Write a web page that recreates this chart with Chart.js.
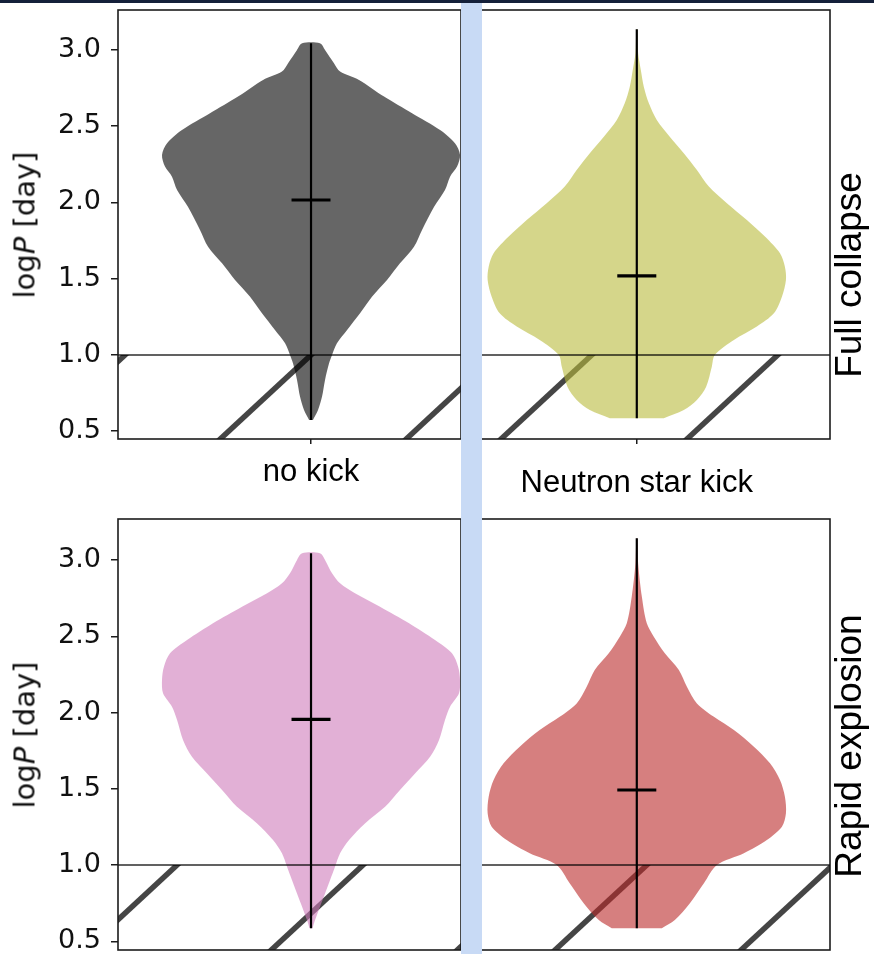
<!DOCTYPE html>
<html><head><meta charset="utf-8">
<script src="https://cdn.jsdelivr.net/npm/chart.js@4.4.1/dist/chart.umd.min.js"></script>
<style>
html,body{margin:0;padding:0;background:#fff;}
body{width:874px;height:954px;position:relative;overflow:hidden;}
canvas{position:absolute;}
.band{position:absolute;left:461px;top:3px;width:21px;height:951px;background:#c8daf5;}
.topbar{position:absolute;left:0;top:0;width:874px;height:3px;background:#14203a;}
.rot{position:absolute;white-space:nowrap;line-height:1;transform:translate(-50%,-50%) rotate(-90deg);}
.ylab{font-family:"DejaVu Sans";font-size:29px;color:#111;}
.rowlab{font-family:"Liberation Sans",Arial,sans-serif;font-size:37px;color:#000;}
</style></head><body>
<canvas id="c0" width="461" height="505" style="left:0;top:0"></canvas>
<canvas id="c1" width="408" height="505" style="left:466px;top:0"></canvas>
<canvas id="c2" width="461" height="449" style="left:0;top:505px"></canvas>
<canvas id="c3" width="408" height="449" style="left:466px;top:505px"></canvas>
<div class="band"></div>
<div class="topbar"></div>
<div class="rot ylab" style="left:25px;top:225px">log<i>P</i> [day]</div>
<div class="rot ylab" style="left:25px;top:735px">log<i>P</i> [day]</div>
<div class="rot rowlab" id="r0" style="left:848px;top:275px"></div>
<div class="rot rowlab" id="r1" style="left:848px;top:746px"></div>
<script>
// ---------------- data ----------------
const categories = ['no kick', 'Neutron star kick'];
const scenarios = ['Full collapse', 'Rapid explosion'];
const yTickValues = [0.5, 1.0, 1.5, 2.0, 2.5, 3.0];
const thresholdLogP = 1.0;

// Full collapse, no kick
const fullNoKickLogP = [0.574, 0.639, 0.727, 0.836, 0.945, 1.000, 1.077, 1.164, 1.273, 1.382, 1.492, 1.601, 1.710, 1.820, 1.972, 2.082, 2.169, 2.235, 2.311, 2.388, 2.475, 2.585, 2.694, 2.803, 2.858, 2.913, 3.000, 3.044];
const fullNoKickDensity = [0.013, 0.047, 0.074, 0.094, 0.121, 0.141, 0.174, 0.242, 0.329, 0.409, 0.510, 0.597, 0.691, 0.745, 0.826, 0.899, 0.933, 0.980, 1.000, 0.966, 0.866, 0.678, 0.490, 0.322, 0.195, 0.154, 0.094, 0.060];
const fullNoKickMedian = 2.016;

// Full collapse, neutron star kick
const fullNsKickLogP = [0.585, 0.639, 0.705, 0.792, 0.923, 1.000, 1.098, 1.186, 1.273, 1.382, 1.492, 1.579, 1.667, 1.776, 1.885, 1.995, 2.104, 2.213, 2.323, 2.431, 2.541, 2.650, 2.759, 2.869, 2.978, 3.136];
const fullNsKickDensity = [0.181, 0.315, 0.403, 0.465, 0.503, 0.523, 0.651, 0.805, 0.919, 0.973, 1.000, 0.993, 0.960, 0.859, 0.738, 0.604, 0.483, 0.403, 0.315, 0.221, 0.134, 0.081, 0.047, 0.027, 0.009, 0.003];
const fullNsKickMedian = 1.518;

// Rapid explosion, no kick
const rapidNoKickLogP = [0.585, 0.639, 0.727, 0.814, 0.902, 0.989, 1.077, 1.164, 1.273, 1.382, 1.492, 1.601, 1.710, 1.820, 1.951, 2.038, 2.126, 2.213, 2.300, 2.388, 2.475, 2.585, 2.694, 2.782, 2.847, 2.913, 3.000, 3.044];
const rapidNoKickDensity = [0.010, 0.027, 0.060, 0.094, 0.128, 0.161, 0.195, 0.255, 0.362, 0.497, 0.597, 0.698, 0.799, 0.859, 0.899, 0.933, 0.993, 1.000, 0.987, 0.946, 0.832, 0.658, 0.463, 0.295, 0.195, 0.141, 0.094, 0.060];
const rapidNoKickMedian = 1.955;

// Rapid explosion, neutron star kick
const rapidNsKickLogP = [0.585, 0.639, 0.749, 0.880, 1.000, 1.077, 1.164, 1.251, 1.339, 1.448, 1.557, 1.667, 1.776, 1.885, 1.972, 2.060, 2.169, 2.279, 2.388, 2.497, 2.585, 2.759, 2.978, 3.142];
const rapidNsKickDensity = [0.168, 0.255, 0.356, 0.450, 0.537, 0.718, 0.872, 0.973, 1.000, 0.993, 0.960, 0.893, 0.785, 0.651, 0.517, 0.403, 0.336, 0.282, 0.188, 0.114, 0.067, 0.034, 0.009, 0.003];
const rapidNsKickMedian = 1.492;

// ---------------- styling / layout ----------------
const VIOLIN_HALF_WIDTH = 0.772;   // x-units (panel half width = 1)
const MEDIAN_HALF_WIDTH = 0.101;
const HATCH = {spacing: 186, slope: 1.08, width: 5.5, color: 'rgba(28,28,28,0.82)'};

document.getElementById('r0').textContent = scenarios[0];
document.getElementById('r1').textContent = scenarios[1];

const panels = [
  {id:'c0', logP: fullNoKickLogP, dens: fullNoKickDensity, median: fullNoKickMedian,
   color:'rgba(0,0,0,0.6)', xMin:-1, xMax:0.777, yMin:0.449, yMax:3.262,
   showY:true, label:categories[0], labelPad:10, padTop:10, padRight:0, xAxisH:66, hatchShift:0},
  {id:'c1', logP: fullNsKickLogP, dens: fullNsKickDensity, median: fullNsKickMedian,
   color:'rgba(185,187,60,0.6)', xMin:-0.884, xMax:1.0, yMin:0.449, yMax:3.262,
   showY:false, label:categories[1], labelPad:21, padTop:10, padRight:44, xAxisH:66, hatchShift:-45},
  {id:'c2', logP: rapidNoKickLogP, dens: rapidNoKickDensity, median: rapidNoKickMedian,
   color:'rgba(207,123,187,0.6)', xMin:-1, xMax:0.777, yMin:0.443, yMax:3.269,
   showY:true, label:null, labelPad:0, padTop:14, padRight:0, xAxisH:4, hatchShift:52},
  {id:'c3', logP: rapidNsKickLogP, dens: rapidNsKickDensity, median: rapidNsKickMedian,
   color:'rgba(187,42,42,0.6)', xMin:-0.884, xMax:1.0, yMin:0.443, yMax:3.269,
   showY:false, label:null, labelPad:0, padTop:14, padRight:44, xAxisH:4, hatchShift:10}
];

function violinOutline(logP, dens) {
  const right = logP.map((v, i) => ({x: dens[i] * VIOLIN_HALF_WIDTH, y: v}));
  const left = logP.map((v, i) => ({x: -dens[i] * VIOLIN_HALF_WIDTH, y: v})).reverse();
  return right.concat(left);
}

const hatchPlugin = {
  id: 'hatchBelow',
  beforeDatasetsDraw(chart, args, opts) {
    const {ctx, chartArea: a, scales: {x, y}} = chart;
    const yTop = y.getPixelForValue(thresholdLogP);
    const yBot = a.bottom;
    const c0 = x.getPixelForValue(0) + opts.shift;
    ctx.save();
    ctx.beginPath();
    ctx.rect(a.left, yTop, a.right - a.left, yBot - yTop);
    ctx.clip();
    ctx.strokeStyle = HATCH.color;
    ctx.lineWidth = HATCH.width;
    ctx.lineCap = 'butt';
    const ext = 20;
    for (let k = -5; k <= 5; k++) {
      const x0 = c0 + k * HATCH.spacing;
      ctx.beginPath();
      ctx.moveTo(x0 + HATCH.slope * ext, yTop - ext);
      ctx.lineTo(x0 - HATCH.slope * (yBot - yTop + ext), yBot + ext);
      ctx.stroke();
    }
    ctx.restore();
  }
};

const framePlugin = {
  id: 'frameBox',
  afterDatasetsDraw(chart) {
    const {ctx, chartArea: a} = chart;
    ctx.save();
    ctx.strokeStyle = '#1c1c1c';
    ctx.lineWidth = 1.6;
    ctx.strokeRect(a.left, a.top, a.right - a.left, a.bottom - a.top);
    ctx.restore();
  }
};

panels.forEach(P => {
  const lo = P.logP[0], hi = P.logP[P.logP.length - 1];
  const datasets = [
    {data: violinOutline(P.logP, P.dens), fill: 'shape', backgroundColor: P.color,
     borderColor: 'transparent', borderWidth: 0, pointRadius: 0, tension: 0.3, order: 3},
    {data: [{x: -2, y: thresholdLogP}, {x: 2, y: thresholdLogP}], borderColor: 'rgba(0,0,0,0.62)',
     borderWidth: 2, pointRadius: 0, fill: false, order: 2},
    {data: [{x: 0, y: lo}, {x: 0, y: hi}], borderColor: '#000', borderWidth: 2.2,
     pointRadius: 0, fill: false, order: 1},
    {data: [{x: -MEDIAN_HALF_WIDTH, y: P.median}, {x: MEDIAN_HALF_WIDTH, y: P.median}],
     borderColor: '#000', borderWidth: 3.2, pointRadius: 0, fill: false, order: 0}
  ];
  new Chart(document.getElementById(P.id), {
    type: 'line',
    data: {datasets},
    plugins: [hatchPlugin, framePlugin],
    options: {
      responsive: false, animation: false, events: [],
      layout: {padding: {top: P.padTop, right: P.padRight, left: 0, bottom: 0}},
      plugins: {legend: {display: false}, tooltip: {enabled: false}, hatchBelow: {shift: P.hatchShift}},
      scales: {
        x: {
          type: 'linear', min: P.xMin, max: P.xMax, position: 'bottom',
          border: {display: false},
          grid: {display: true, drawOnChartArea: false, drawTicks: true, tickLength: 5, color: '#1c1c1c', lineWidth: 1.5},
          ticks: {display: P.label !== null, autoSkip: false, maxRotation: 0, padding: P.labelPad,
                  font: {family: 'Liberation Sans', size: 31}, color: '#000',
                  callback: () => P.label},
          afterBuildTicks: s => { s.ticks = [{value: 0}]; },
          afterFit: s => { s.height = P.xAxisH; s.paddingLeft = 0; s.paddingRight = 0; s.paddingTop = 0; s.paddingBottom = 0; }
        },
        y: {
          type: 'linear', min: P.yMin, max: P.yMax, display: P.showY,
          border: {display: false},
          grid: {display: true, drawOnChartArea: false, drawTicks: true, tickLength: 7, color: '#1c1c1c', lineWidth: 1.5},
          ticks: {padding: 10, font: {family: 'DejaVu Sans', size: 27}, color: '#111',
                  callback: v => Number(v).toFixed(1)},
          afterBuildTicks: s => { s.ticks = yTickValues.map(v => ({value: v})); },
          afterFit: s => { s.width = P.showY ? 118 : 0; s.paddingTop = 0; s.paddingBottom = 0; s.paddingLeft = 0; s.paddingRight = 0; }
        }
      }
    }
  });
});
</script>
</body></html>
